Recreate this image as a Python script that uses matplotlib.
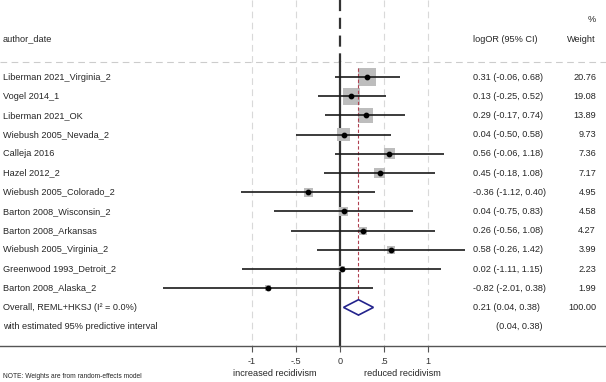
import numpy as np
import matplotlib
matplotlib.use("Agg")
import matplotlib.pyplot as plt

plt.rcParams['font.family'] = ['Liberation Sans', 'DejaVu Sans']

studies = ["Liberman 2021_Virginia_2", "Vogel 2014_1", "Liberman 2021_OK",
           "Wiebush 2005_Nevada_2", "Calleja 2016", "Hazel 2012_2",
           "Wiebush 2005_Colorado_2", "Barton 2008_Wisconsin_2",
           "Barton 2008_Arkansas", "Wiebush 2005_Virginia_2",
           "Greenwood 1993_Detroit_2", "Barton 2008_Alaska_2"]
est = np.array([0.31, 0.13, 0.29, 0.04, 0.56, 0.45, -0.36, 0.04, 0.26, 0.58, 0.02, -0.82])
lo = np.array([-0.06, -0.25, -0.17, -0.50, -0.06, -0.18, -1.12, -0.75, -0.56, -0.26, -1.11, -2.01])
hi = np.array([0.68, 0.52, 0.74, 0.58, 1.18, 1.08, 0.40, 0.83, 1.08, 1.42, 1.15, 0.38])
weight = np.array([20.76, 19.08, 13.89, 9.73, 7.36, 7.17, 4.95, 4.58, 4.27, 3.99, 2.23, 1.99])
overall = 0.21
overall_lo, overall_hi = 0.04, 0.38
pred_lo, pred_hi = 0.04, 0.38
xticks = [-1, -0.5, 0, 0.5, 1]
xticklabels = ["-1", "-.5", "0", ".5", "1"]

W, H = 606, 382
fig = plt.figure(figsize=(W / 100, H / 100), dpi=100)
ax = fig.add_axes([0, 0, 1, 1])

# pixel layout: x=0 at 340px, 88px per unit; rows start at 77px, 19.2px apart
ax.set_xlim(-340 / 88, (W - 340) / 88)
row0, step = 77, 19.2
ax.set_ylim((H - row0) / step, -row0 / step)

def py(p):
    return (p - row0) / step

n = len(studies)
rows = np.arange(n)
axis_y = py(346)

# grid lines
for g in [-1, -0.5, 0.5, 1]:
    ax.plot([g, g], [py(0), axis_y], color='#d9d9d9', lw=0.8, ls=(0, (6, 4)), zorder=0)
ax.plot([0, 0], [py(0), py(62)], color='#333333', lw=1.6, ls=(0, (5, 3)), zorder=1)
ax.plot([0, 0], [py(62), axis_y], color='#333333', lw=1.6, zorder=1)
ax.axhline(py(62), color='#cccccc', lw=0.8, ls=(0, (6, 4)), zorder=0)

# red overall line
ax.plot([overall, overall], [py(68), py(315)], color='#b04050', lw=0.8,
        ls=(0, (3, 2)), zorder=3)

# studies
side_px = 18 * np.sqrt(weight / weight.max())
ax.scatter(est, rows, s=(side_px * 0.72) ** 2, marker='s', color='#bdbdbd',
           edgecolors='none', zorder=2)
ax.hlines(rows, lo, hi, color='#1a1a1a', lw=1.2, zorder=4)
ax.scatter(est, rows, s=10, color='black', zorder=5)

# diamond
yd = n
hh = 0.4
ax.fill([overall_lo, overall, overall_hi, overall, overall_lo],
        [yd, yd - hh, yd, yd + hh, yd], facecolor='white', edgecolor='#23238c',
        lw=1.2, zorder=6)

# axis
for s in ['top', 'left', 'right']:
    ax.spines[s].set_visible(False)
ax.spines['bottom'].set_position(('data', axis_y))
ax.spines['bottom'].set_color('#555555')
ax.spines['bottom'].set_linewidth(1.0)
ax.set_xticks(xticks)
ax.set_xticklabels(xticklabels)
ax.tick_params(axis='x', length=4, width=0.8, color='#555555', labelsize=6.6,
               pad=4, labelcolor='#333333')
ax.set_yticks([])

tr = ax.get_yaxis_transform()
fs = 6.6
tc = '#262626'
ax.text(3 / W, py(39), "author_date", transform=tr, ha='left', va='center', fontsize=fs, color=tc)
ax.text(473 / W, py(39), "logOR (95% CI)", transform=tr, ha='left', va='center', fontsize=fs, color=tc)
ax.text(596 / W, py(39), "Weight", transform=tr, ha='right', va='center', fontsize=fs, color=tc)
ax.text(596 / W, py(20), "%", transform=tr, ha='right', va='center', fontsize=fs, color=tc)

for i in range(n):
    ax.text(3 / W, i, studies[i], transform=tr, ha='left', va='center', fontsize=fs, color=tc)
    ax.text(473 / W, i, f"{est[i]:.2f} ({lo[i]:.2f}, {hi[i]:.2f})", transform=tr,
            ha='left', va='center', fontsize=fs, color=tc)
    ax.text(596 / W, i, f"{weight[i]:.2f}", transform=tr, ha='right', va='center',
            fontsize=fs, color=tc)

ax.text(3 / W, n, "Overall, REML+HKSJ (I² = 0.0%)", transform=tr, ha='left', va='center',
        fontsize=fs, color=tc)
ax.text(473 / W, n, f"{overall:.2f} ({overall_lo:.2f}, {overall_hi:.2f})", transform=tr,
        ha='left', va='center', fontsize=fs, color=tc)
ax.text(596 / W, n, f"{weight.sum():.2f}", transform=tr, ha='right', va='center',
        fontsize=fs, color=tc)
ax.text(3 / W, n + 1, "with estimated 95% predictive interval", transform=tr, ha='left',
        va='center', fontsize=fs, color=tc)
ax.text(543 / W, n + 1, f"({pred_lo:.2f}, {pred_hi:.2f})", transform=tr, ha='right',
        va='center', fontsize=fs, color=tc)

ax.text((275 - 340) / 88, py(374), "increased recidivism", ha='center', va='center',
        fontsize=6.6, color=tc)
ax.text((402 - 340) / 88, py(374), "reduced recidivism", ha='center', va='center',
        fontsize=6.6, color=tc)
ax.text(3 / W, py(376), "NOTE: Weights are from random-effects model", transform=tr,
        ha='left', va='center', fontsize=4.8, color=tc)

fig.savefig("out.png", dpi=100)
